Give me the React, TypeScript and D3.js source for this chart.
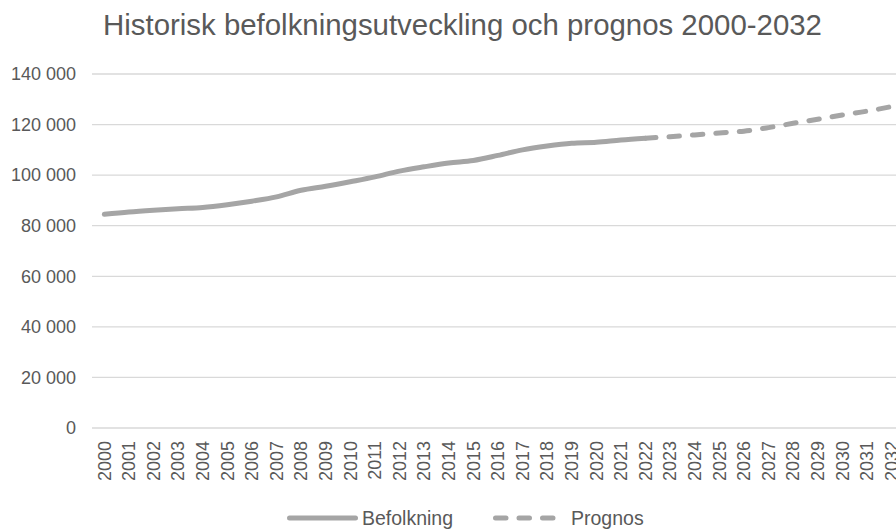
import React, { useEffect, useRef } from "react";
import * as d3 from "d3";

// befolkning per år (historik + prognos)
const years = d3.range(2000, 2033).map(String);
const historyYears = [
  "2000", "2001", "2002", "2003", "2004", "2005", "2006", "2007", "2008",
  "2009", "2010", "2011", "2012", "2013", "2014", "2015", "2016", "2017",
  "2018", "2019", "2020", "2021", "2022",
];
const historyValues = [
  84500, 85400, 86100, 86700, 87200, 88300, 89700, 91400, 94000,
  95600, 97400, 99300, 101600, 103300, 104800, 105800, 107800, 110000,
  111500, 112600, 113000, 113900, 114600,
];
const forecastYears = [
  "2022", "2023", "2024", "2025", "2026", "2027", "2028", "2029", "2030",
  "2031", "2032",
];
const forecastValues = [
  114600, 115200, 115900, 116700, 117400, 118800, 120500, 122100, 123800,
  125300, 127100,
];
const yTicks = [0, 20000, 40000, 60000, 80000, 100000, 120000, 140000];

const W = 896;
const H = 530;
const FONT = "'Liberation Sans', Arial, sans-serif";
const TEXT = "#595959";
const LINE = "#A5A5A5";
const DASH = "10.5,13";

export default function App() {
  const ref = useRef<SVGSVGElement>(null);

  useEffect(() => {
    const svg = d3.select(ref.current);
    svg.selectAll("*").remove();

    const x = d3.scaleBand().domain(years).range([92, 92 + 33 * 24.6]).padding(0);
    const y = d3.scaleLinear().domain([0, 140000]).range([428, 74]);
    const cx = (d: string) => (x(d) as number) + x.bandwidth() / 2;
    const fmt = d3.formatLocale({
      decimal: ",",
      thousands: "\u00a0",
      grouping: [3],
      currency: ["", ""],
    }).format(",");

    svg.append("text")
      .attr("x", 462.5)
      .attr("y", 35)
      .attr("text-anchor", "middle")
      .style("font-family", FONT)
      .style("font-size", "29.4px")
      .style("fill", TEXT)
      .text("Historisk befolkningsutveckling och prognos 2000-2032");

    // gridlines
    svg.append("g")
      .selectAll("line")
      .data(yTicks)
      .join("line")
      .attr("x1", 92)
      .attr("x2", W)
      .attr("y1", (d) => y(d))
      .attr("y2", (d) => y(d))
      .attr("stroke", "#D9D9D9")
      .attr("stroke-width", 1.3);

    svg.append("g")
      .selectAll("text")
      .data(yTicks)
      .join("text")
      .attr("x", 76)
      .attr("y", (d) => y(d))
      .attr("dy", "0.35em")
      .attr("text-anchor", "end")
      .style("font-family", FONT)
      .style("font-size", "18px")
      .style("fill", TEXT)
      .text((d) => fmt(d));

    svg.append("g")
      .selectAll("text")
      .data(years)
      .join("text")
      .attr("transform", (d) => `translate(${cx(d)},441) rotate(-90)`)
      .attr("dy", "0.35em")
      .attr("text-anchor", "end")
      .style("font-family", FONT)
      .style("font-size", "18px")
      .style("fill", TEXT)
      .text((d) => d);

    const line = d3.line<[string, number]>()
      .x((d) => cx(d[0]))
      .y((d) => y(d[1]))
      .curve(d3.curveMonotoneX);

    svg.append("path")
      .datum(d3.zip(historyYears, historyValues) as [string, number][])
      .attr("d", line)
      .attr("fill", "none")
      .attr("stroke", LINE)
      .attr("stroke-width", 5)
      .attr("stroke-linecap", "round")
      .attr("stroke-linejoin", "round");

    svg.append("path")
      .datum(d3.zip(forecastYears, forecastValues) as [string, number][])
      .attr("d", line)
      .attr("fill", "none")
      .attr("stroke", LINE)
      .attr("stroke-width", 5)
      .attr("stroke-linecap", "round")
      .attr("stroke-dasharray", DASH);

    // legend
    const legend = svg.append("g").style("font-family", FONT).style("font-size", "19.5px");
    legend.append("line")
      .attr("x1", 289.5).attr("x2", 355.5).attr("y1", 518).attr("y2", 518)
      .attr("stroke", LINE).attr("stroke-width", 5).attr("stroke-linecap", "round");
    legend.append("text")
      .attr("x", 362).attr("y", 518).attr("dy", "0.35em")
      .style("fill", TEXT).text("Befolkning");
    legend.append("line")
      .attr("x1", 495.5).attr("x2", 556).attr("y1", 518).attr("y2", 518)
      .attr("stroke", LINE).attr("stroke-width", 5).attr("stroke-linecap", "round")
      .attr("stroke-dasharray", DASH);
    legend.append("text")
      .attr("x", 571).attr("y", 518).attr("dy", "0.35em")
      .style("fill", TEXT).text("Prognos");
  }, []);

  return (
    <svg
      ref={ref}
      width={W}
      height={H}
      style={{ position: "absolute", left: 0, top: 0, background: "#fff", overflow: "hidden" }}
    />
  );
}
